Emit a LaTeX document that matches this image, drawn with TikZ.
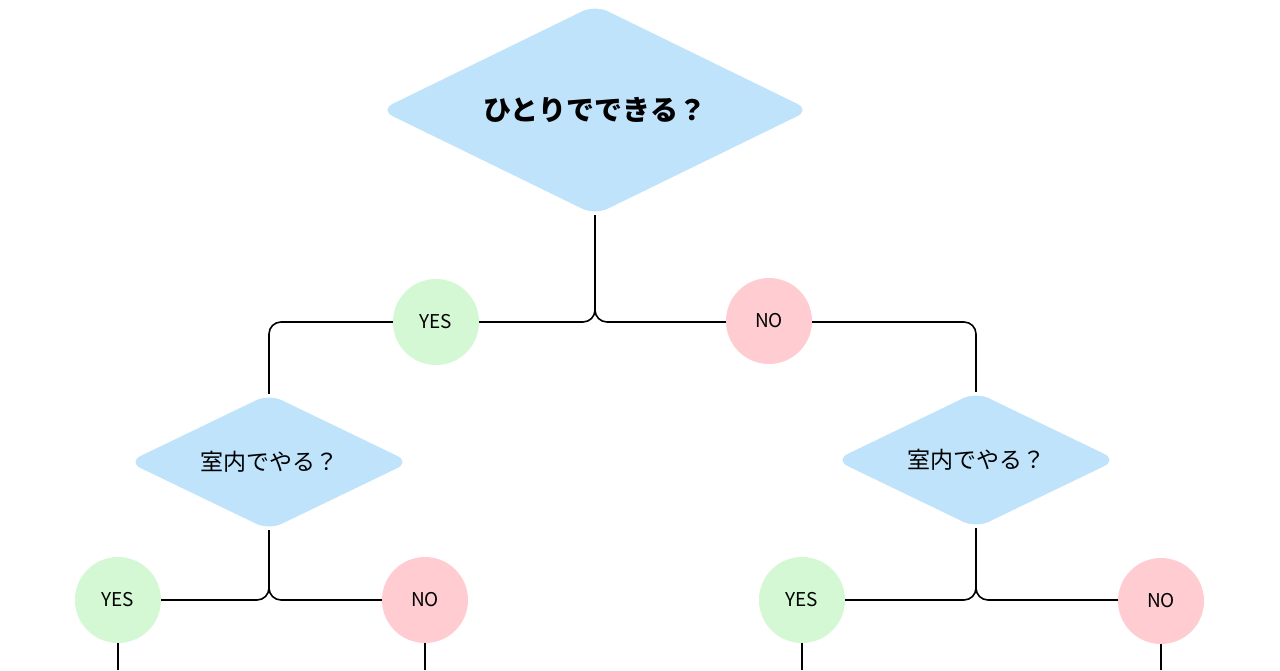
\documentclass[tikz,border=0pt]{standalone}
\usepackage{fontspec}
\setmainfont{Noto Sans CJK JP}
\usetikzlibrary{shapes.geometric}
\definecolor{qblue}{HTML}{BFE3FB}
\definecolor{yesgreen}{HTML}{D3F8D3}
\definecolor{nopink}{HTML}{FFCCD2}
\tikzset{
  question/.style = {diamond, fill = qblue, rounded corners = 14pt, inner sep = 0pt, aspect = 2},
  yesdot/.style = {circle, fill = yesgreen, minimum size = 86pt, inner sep = 0pt, font = \fontsize{19}{19}\selectfont},
  nodot/.style = {circle, fill = nopink, minimum size = 86pt, inner sep = 0pt, font = \fontsize{19}{19}\selectfont},
  link/.style = {line width = 1.6pt, rounded corners = 12pt}
}
\begin{document}
\begin{tikzpicture}[x = 1pt, y = -1pt]
    \useasboundingbox[fill = white] (0, 0) rectangle (1280, 670);
    % questions
    \node[question, minimum width = 430pt, minimum height = 210pt, font = \fontsize{28}{28}\selectfont\bfseries] (q1) at (595, 110) {ひとりでできる？};
    \node[question, minimum width = 282pt, minimum height = 136pt, font = \fontsize{23}{23}\selectfont] (q2) at (269, 462) {室内でやる？};
    \node[question, minimum width = 282pt, minimum height = 136pt, font = \fontsize{23}{23}\selectfont] (q3) at (976, 460) {室内でやる？};
    % answers
    \coordinate (f1) at (595, 322);
    \coordinate (f2) at (269, 600);
    \coordinate (f3) at (976, 600);
    \coordinate (e1) at (118, 670);
    \coordinate (e2) at (425, 670);
    \coordinate (e3) at (802, 670);
    \coordinate (e4) at (1161, 670);
    \draw[link] (q1.south) |- (436, 322);
    \draw[link] (q1.south) |- (769, 322);
    \draw[link] (436, 322) -| (q2.north);
    \draw[link] (769, 322) -| (q3.north);
    \draw[link] (q2.south) |- (118, 600);
    \draw[link] (q2.south) |- (425, 600);
    \draw[link] (q3.south) |- (802, 600);
    \draw[link] (q3.south) |- (1161, 600);
    \node[yesdot] (y1) at (436, 322) {YES};
    \node[nodot] (n1) at (769, 321) {NO};
    \node[yesdot] (y2) at (118, 600) {YES};
    \node[nodot] (n2) at (425, 600) {NO};
    \node[yesdot] (y3) at (802, 600) {YES};
    \node[nodot] (n3) at (1161, 601) {NO};
    \draw[link] (y2.south) -- (e1);
    \draw[link] (n2.south) -- (e2);
    \draw[link] (y3.south) -- (e3);
    \draw[link] (n3.south) -- (e4);
\end{tikzpicture}
\end{document}
